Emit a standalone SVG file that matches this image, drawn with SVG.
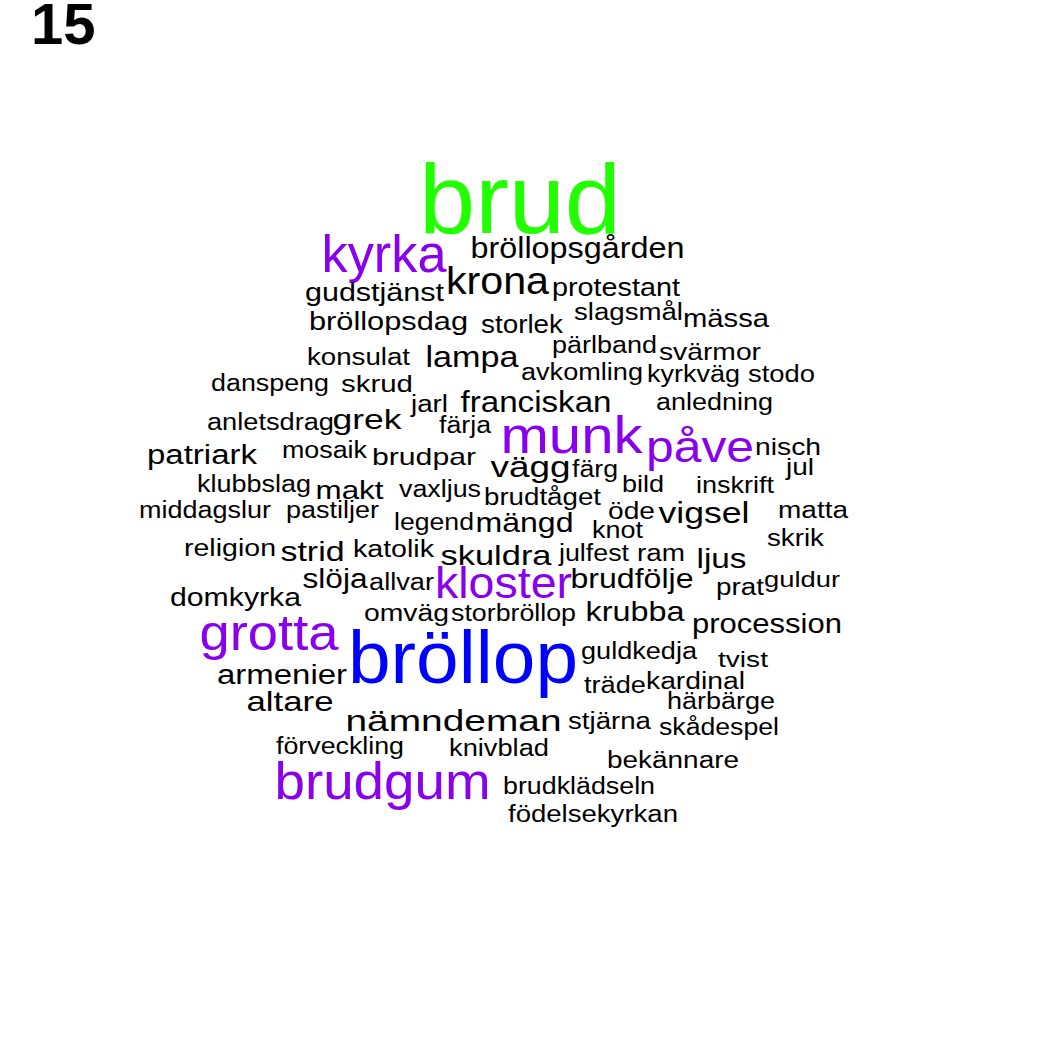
<svg xmlns="http://www.w3.org/2000/svg" width="1050" height="1050" viewBox="0 0 1050 1050">
<style>
text{font-family:"Liberation Sans",Arial,Helvetica,sans-serif;fill:#000}
.g{fill:#22ff00}.p{fill:#8800ee}.b{fill:#0000ff}
</style>
<rect width="1050" height="1050" fill="#fff"/>
<text x="31" y="44" font-size="58" font-weight="bold">15</text>
<g id="cloud">
<text id="w-brud" class="g" x="419" y="233" font-size="98" textLength="202" lengthAdjust="spacingAndGlyphs">brud</text>
<text x="470.5" y="258" font-size="29" textLength="214" lengthAdjust="spacingAndGlyphs">bröllopsgården</text>
<text id="w-kyrka" class="p" x="321.5" y="272" font-size="51" textLength="125" lengthAdjust="spacingAndGlyphs">kyrka</text>
<text x="446" y="294" font-size="38" textLength="103" lengthAdjust="spacingAndGlyphs">krona</text>
<text x="552" y="296" font-size="26" textLength="128" lengthAdjust="spacingAndGlyphs">protestant</text>
<text x="305" y="301" font-size="25" textLength="139" lengthAdjust="spacingAndGlyphs">gudstjänst</text>
<text x="309" y="330" font-size="26" textLength="159" lengthAdjust="spacingAndGlyphs">bröllopsdag</text>
<text x="481" y="333" font-size="25" textLength="82" lengthAdjust="spacingAndGlyphs">storlek</text>
<text x="574" y="320" font-size="23" textLength="109" lengthAdjust="spacingAndGlyphs">slagsmål</text>
<text x="683" y="327" font-size="25" textLength="86" lengthAdjust="spacingAndGlyphs">mässa</text>
<text x="307" y="365" font-size="23" textLength="103" lengthAdjust="spacingAndGlyphs">konsulat</text>
<text x="425.5" y="367" font-size="30" textLength="93" lengthAdjust="spacingAndGlyphs">lampa</text>
<text x="552" y="353" font-size="23" textLength="105" lengthAdjust="spacingAndGlyphs">pärlband</text>
<text x="659" y="360" font-size="24" textLength="102" lengthAdjust="spacingAndGlyphs">svärmor</text>
<text x="211" y="391" font-size="23" textLength="118" lengthAdjust="spacingAndGlyphs">danspeng</text>
<text x="341" y="392" font-size="24" textLength="72" lengthAdjust="spacingAndGlyphs">skrud</text>
<text x="521" y="380" font-size="23" textLength="122" lengthAdjust="spacingAndGlyphs">avkomling</text>
<text x="647" y="382" font-size="23" textLength="93" lengthAdjust="spacingAndGlyphs">kyrkväg</text>
<text x="748" y="382" font-size="23" textLength="67" lengthAdjust="spacingAndGlyphs">stodo</text>
<text x="411" y="412" font-size="23" textLength="37" lengthAdjust="spacingAndGlyphs">jarl</text>
<text x="460.5" y="412" font-size="29" textLength="151" lengthAdjust="spacingAndGlyphs">franciskan</text>
<text x="656" y="410" font-size="23" textLength="117" lengthAdjust="spacingAndGlyphs">anledning</text>
<text x="207" y="430" font-size="23" textLength="127" lengthAdjust="spacingAndGlyphs">anletsdrag</text>
<text x="332.5" y="429" font-size="28" textLength="69" lengthAdjust="spacingAndGlyphs">grek</text>
<text x="439" y="433" font-size="23" textLength="52" lengthAdjust="spacingAndGlyphs">färja</text>
<text id="w-munk" class="p" x="500.5" y="453" font-size="52" textLength="142" lengthAdjust="spacingAndGlyphs">munk</text>
<text id="w-pave" class="p" x="646" y="462" font-size="45" textLength="108" lengthAdjust="spacingAndGlyphs">påve</text>
<text x="755" y="455" font-size="24" textLength="66" lengthAdjust="spacingAndGlyphs">nisch</text>
<text x="786" y="475" font-size="24" textLength="28" lengthAdjust="spacingAndGlyphs">jul</text>
<text x="147" y="464" font-size="27" textLength="110" lengthAdjust="spacingAndGlyphs">patriark</text>
<text x="282" y="458" font-size="23" textLength="85" lengthAdjust="spacingAndGlyphs">mosaik</text>
<text x="372" y="465" font-size="24" textLength="104" lengthAdjust="spacingAndGlyphs">brudpar</text>
<text x="490.5" y="477" font-size="30" textLength="80" lengthAdjust="spacingAndGlyphs">vägg</text>
<text x="572" y="477" font-size="23" textLength="46" lengthAdjust="spacingAndGlyphs">färg</text>
<text x="622" y="492" font-size="24" textLength="42" lengthAdjust="spacingAndGlyphs">bild</text>
<text x="696" y="493" font-size="24" textLength="78" lengthAdjust="spacingAndGlyphs">inskrift</text>
<text x="197" y="492" font-size="23" textLength="114" lengthAdjust="spacingAndGlyphs">klubbslag</text>
<text x="315.5" y="499" font-size="26" textLength="68" lengthAdjust="spacingAndGlyphs">makt</text>
<text x="399" y="497" font-size="23" textLength="82" lengthAdjust="spacingAndGlyphs">vaxljus</text>
<text x="484" y="505" font-size="23" textLength="117" lengthAdjust="spacingAndGlyphs">brudtåget</text>
<text x="139" y="518" font-size="23" textLength="132" lengthAdjust="spacingAndGlyphs">middagslur</text>
<text x="286" y="518" font-size="23" textLength="93" lengthAdjust="spacingAndGlyphs">pastiljer</text>
<text x="608" y="519" font-size="23" textLength="47" lengthAdjust="spacingAndGlyphs">öde</text>
<text x="658.5" y="523" font-size="30" textLength="91" lengthAdjust="spacingAndGlyphs">vigsel</text>
<text x="778" y="518" font-size="23" textLength="70" lengthAdjust="spacingAndGlyphs">matta</text>
<text x="394" y="530" font-size="23" textLength="80" lengthAdjust="spacingAndGlyphs">legend</text>
<text x="475.5" y="532" font-size="28" textLength="98" lengthAdjust="spacingAndGlyphs">mängd</text>
<text x="592" y="538" font-size="23" textLength="51" lengthAdjust="spacingAndGlyphs">knot</text>
<text x="767" y="546" font-size="23" textLength="57" lengthAdjust="spacingAndGlyphs">skrik</text>
<text x="184" y="556" font-size="23" textLength="92" lengthAdjust="spacingAndGlyphs">religion</text>
<text x="280.5" y="561" font-size="28" textLength="64" lengthAdjust="spacingAndGlyphs">strid</text>
<text x="353" y="557" font-size="23" textLength="81" lengthAdjust="spacingAndGlyphs">katolik</text>
<text x="440.5" y="565" font-size="28" textLength="111" lengthAdjust="spacingAndGlyphs">skuldra</text>
<text x="559" y="561" font-size="23" textLength="70" lengthAdjust="spacingAndGlyphs">julfest</text>
<text x="637" y="561" font-size="23" textLength="48" lengthAdjust="spacingAndGlyphs">ram</text>
<text x="696.5" y="568" font-size="28" textLength="50" lengthAdjust="spacingAndGlyphs">ljus</text>
<text x="302.5" y="588" font-size="27" textLength="65" lengthAdjust="spacingAndGlyphs">slöja</text>
<text x="369" y="590" font-size="23" textLength="65" lengthAdjust="spacingAndGlyphs">allvar</text>
<text id="w-kloster" class="p" x="435" y="598" font-size="45" textLength="137" lengthAdjust="spacingAndGlyphs">kloster</text>
<text x="570.5" y="588" font-size="28" textLength="123" lengthAdjust="spacingAndGlyphs">brudfölje</text>
<text x="716" y="595" font-size="23" textLength="48" lengthAdjust="spacingAndGlyphs">prat</text>
<text x="764" y="587" font-size="22" textLength="76" lengthAdjust="spacingAndGlyphs">guldur</text>
<text x="170" y="606" font-size="25" textLength="131" lengthAdjust="spacingAndGlyphs">domkyrka</text>
<text x="364" y="621" font-size="23" textLength="85" lengthAdjust="spacingAndGlyphs">omväg</text>
<text x="451" y="621" font-size="23" textLength="125" lengthAdjust="spacingAndGlyphs">storbröllop</text>
<text x="585.5" y="621" font-size="28" textLength="99" lengthAdjust="spacingAndGlyphs">krubba</text>
<text x="692" y="633" font-size="27" textLength="150" lengthAdjust="spacingAndGlyphs">procession</text>
<text id="w-grotta" class="p" x="199.5" y="650" font-size="50" textLength="139" lengthAdjust="spacingAndGlyphs">grotta</text>
<text id="w-brollop" class="b" x="348" y="683" font-size="75" textLength="230" lengthAdjust="spacingAndGlyphs">bröllop</text>
<text x="581" y="659" font-size="23" textLength="116" lengthAdjust="spacingAndGlyphs">guldkedja</text>
<text x="718" y="667" font-size="22" textLength="50" lengthAdjust="spacingAndGlyphs">tvist</text>
<text x="217" y="684" font-size="27" textLength="130" lengthAdjust="spacingAndGlyphs">armenier</text>
<text x="584" y="693" font-size="23" textLength="62" lengthAdjust="spacingAndGlyphs">träde</text>
<text x="646" y="689" font-size="23" textLength="99" lengthAdjust="spacingAndGlyphs">kardinal</text>
<text x="246.5" y="711" font-size="28" textLength="87" lengthAdjust="spacingAndGlyphs">altare</text>
<text x="667" y="709" font-size="23" textLength="108" lengthAdjust="spacingAndGlyphs">härbärge</text>
<text x="345.5" y="731" font-size="30" textLength="216" lengthAdjust="spacingAndGlyphs">nämndeman</text>
<text x="568" y="729" font-size="23" textLength="83" lengthAdjust="spacingAndGlyphs">stjärna</text>
<text x="659" y="735" font-size="23" textLength="120" lengthAdjust="spacingAndGlyphs">skådespel</text>
<text x="276" y="754" font-size="23" textLength="128" lengthAdjust="spacingAndGlyphs">förveckling</text>
<text x="449" y="756" font-size="23" textLength="100" lengthAdjust="spacingAndGlyphs">knivblad</text>
<text x="607" y="768" font-size="23" textLength="132" lengthAdjust="spacingAndGlyphs">bekännare</text>
<text id="w-brudgum" class="p" x="274.5" y="799" font-size="52" textLength="216" lengthAdjust="spacingAndGlyphs">brudgum</text>
<text x="503" y="794" font-size="23" textLength="152" lengthAdjust="spacingAndGlyphs">brudklädseln</text>
<text x="508" y="822" font-size="23" textLength="170" lengthAdjust="spacingAndGlyphs">födelsekyrkan</text>
</g>
</svg>
